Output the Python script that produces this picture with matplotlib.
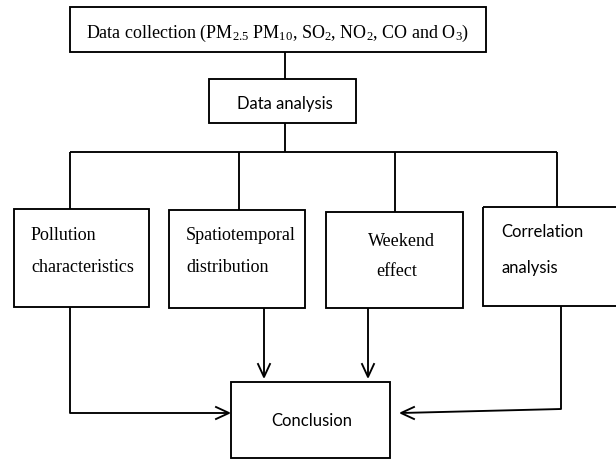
import matplotlib
matplotlib.use("Agg")
import matplotlib.pyplot as plt
from matplotlib.patches import Rectangle

plt.rcParams['mathtext.fontset'] = 'custom'
plt.rcParams['mathtext.rm'] = 'Liberation Serif'
plt.rcParams['mathtext.it'] = 'Liberation Serif:italic'

SERIF = 'Liberation Serif'
SANS = 'Lato'

top_label = r"Data collection (PM$_{2.5}$ PM$_{10}$, SO$_{2}$, NO$_{2}$, CO and O$_{3}$)"
mid_label = "Data analysis"
branch_line1 = ["Pollution", "Spatiotemporal", "Weekend", "Correlation"]
branch_line2 = ["characteristics", "distribution", "effect", "analysis"]
branch_fonts = [SERIF, SERIF, SERIF, SANS]
end_label = "Conclusion"

fig = plt.figure(figsize=(6.16, 4.59), dpi=100)
ax = fig.add_axes([0, 0, 1, 1])
ax.set_xlim(0, 616)
ax.set_ylim(459, 0)
ax.axis('off')

LW = 1.35
K = 'black'
FS_SERIF = 13.0
FS_SANS = 12.0

def box(x0, y0, x1, y1, lw=LW):
    ax.add_patch(Rectangle((x0, y0), x1 - x0, y1 - y0, fill=False, ec=K, lw=lw))

def line(xs, ys):
    ax.plot(xs, ys, color=K, lw=LW, solid_capstyle='butt')

def arrowhead(x, y, direction):
    L, W = 13, 6
    if direction == 'down':
        ax.plot([x - W, x, x + W], [y - L, y, y - L], color=K, lw=LW)
    elif direction == 'right':
        ax.plot([x - L, x, x - L], [y - W, y, y + W], color=K, lw=LW)
    elif direction == 'left':
        ax.plot([x + L, x, x + L], [y - W, y, y + W], color=K, lw=LW)

# top box
box(70, 7, 486, 52)
ax.text(278, 33, top_label, family=SERIF, fontsize=FS_SERIF, ha='center', va='center')
line([285, 285], [52, 79])

# data analysis box
box(209, 79, 356, 123)
ax.text(285, 104, mid_label, family=SANS, fontsize=FS_SANS, ha='center', va='center')
line([285, 285], [123, 152])

# horizontal distribution line
drop_x = [70, 239, 394.5, 557]
box_rects = [(14, 209, 149, 307), (169, 210, 305, 308), (326, 212, 462.5, 308), (483, 207, 640, 306)]
line([drop_x[0], drop_x[-1]], [152, 152])
for dx, r in zip(drop_x, box_rects):
    line([dx, dx], [152, r[1]])

for r in box_rects:
    box(*r)

# branch texts
txt_pos = [((31, 235), (31, 268), 'left'),
           ((186, 235), (186, 268), 'left'),
           ((368, 242), (397, 272), 'center2'),
           ((501, 232), (501, 268), 'left')]
for i, (p1, p2, mode) in enumerate(txt_pos):
    fs = FS_SERIF if branch_fonts[i] == SERIF else FS_SANS
    ax.text(p1[0], p1[1], branch_line1[i], family=branch_fonts[i], fontsize=fs, ha='left', va='center')
    ha2 = 'center' if mode == 'center2' else 'left'
    ax.text(p2[0], p2[1], branch_line2[i], family=branch_fonts[i], fontsize=fs, ha=ha2, va='center')

# conclusion box
box(231, 382, 390, 458)
ax.text(312, 421, end_label, family=SANS, fontsize=FS_SANS, ha='center', va='center')

# connectors to conclusion
line([70, 70, 229], [307, 413, 413])
arrowhead(229, 413, 'right')
line([264, 264], [308, 377])
arrowhead(264, 377, 'down')
line([368, 368], [308, 377])
arrowhead(368, 377, 'down')
line([561, 561, 401], [306, 409, 413])
arrowhead(401, 413, 'left')

fig.savefig("out.png", dpi=100)
